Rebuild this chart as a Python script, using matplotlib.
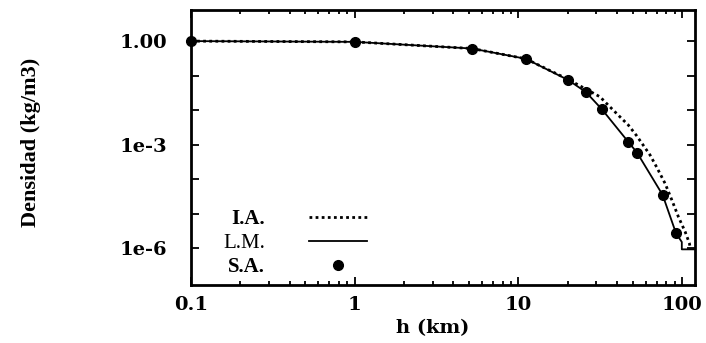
import matplotlib
matplotlib.use("Agg")
import matplotlib.pyplot as plt
from matplotlib.ticker import LogLocator, FixedLocator, FixedFormatter, NullFormatter, NullLocator

# ---- data ----
h_sa = [0.1, 1.0, 5.2, 11.1, 20.2, 25.9, 32.4, 46.9, 53.0, 76.0, 91.8]
rho_sa = [1.0, 0.95, 0.61, 0.307, 0.074, 0.033, 0.0105, 1.2e-3, 5.9e-4, 3.5e-5, 2.7e-6]

h_lm = [0.1, 1.0, 5.2, 11.1, 20.2, 25.9, 32.4, 46.9, 53.0, 76.0, 91.8, 99.6, 99.6, 120.0]
rho_lm = [1.0, 0.95, 0.61, 0.307, 0.074, 0.033, 0.0105, 1.2e-3, 5.9e-4, 3.5e-5, 2.7e-6,
          1.5e-6, 9.2e-7, 9.2e-7]

h_ia = [0.1, 1.0, 5.2, 11.1, 20.2, 31.5, 36.2, 41.7, 46.9, 52.8, 63.7, 70.0,
        78.7, 86.5, 94.9, 104.3, 110.7, 111.8]
rho_ia = [1.0, 0.95, 0.61, 0.307, 0.077, 0.0243, 0.0125, 6.4e-3, 3.7e-3, 1.8e-3,
          5.0e-4, 2.2e-4, 7.5e-5, 2.5e-5, 8.1e-6, 3.0e-6, 1.4e-6, 1.1e-6]

xtick_vals = [0.1, 1, 10, 100]
xtick_labels = ["0.1", "1", "10", "100"]
ytick_vals = [1, 1e-1, 1e-2, 1e-3, 1e-4, 1e-5, 1e-6]
ytick_labels = ["1.00", "", "", "1e-3", "", "", "1e-6"]

labels = ["I.A.", "L.M.", "S.A."]
xlabel = "h (km)"
ylabel = "Densidad (kg/m3)"

# ---- figure ----
fig = plt.figure(figsize=(7.06, 3.43), dpi=100)
ax = fig.add_axes([0.2705, 0.169, 0.714, 0.802])

ax.set_xscale("log")
ax.set_yscale("log")

l_ia, = ax.plot(h_ia, rho_ia, color="black", linestyle=(0, (1, 1.2)), linewidth=2.0)
l_lm, = ax.plot(h_lm, rho_lm, color="black", linestyle="-", linewidth=1.3)
l_sa, = ax.plot(h_sa, rho_sa, color="black", linestyle="none", marker="o", markersize=7,
                clip_on=False)

ax.set_xlim(0.1, 120)
ax.set_ylim(8.5e-8, 8)

ax.xaxis.set_major_locator(FixedLocator(xtick_vals))
ax.xaxis.set_major_formatter(FixedFormatter(xtick_labels))
ax.xaxis.set_minor_locator(LogLocator(base=10, subs=range(2, 10), numticks=20))
ax.xaxis.set_minor_formatter(NullFormatter())

ax.yaxis.set_major_locator(FixedLocator(ytick_vals))
ax.yaxis.set_major_formatter(FixedFormatter(ytick_labels))
ax.yaxis.set_minor_locator(NullLocator())

ax.tick_params(which="both", direction="in", top=True, right=True, width=1.3, color="black")
ax.tick_params(which="major", length=6)
ax.tick_params(which="minor", length=3)
ax.tick_params(axis="x", which="major", pad=8)
ax.tick_params(axis="y", which="major", pad=17)

for t in ax.get_xticklabels() + ax.get_yticklabels():
    t.set_fontfamily("DejaVu Serif")
    t.set_fontweight("bold")
    t.set_fontsize(14)

for s in ax.spines.values():
    s.set_linewidth(2.0)
    s.set_color("black")

ax.set_xlabel(xlabel, fontfamily="DejaVu Serif", fontweight="bold", fontsize=14, labelpad=0)
ax.set_ylabel(ylabel, fontfamily="Liberation Serif", fontweight="bold", fontsize=16, labelpad=0)
ax.yaxis.set_label_coords(-0.297, 0.52)
ax.xaxis.set_label_coords(0.48, -0.124)

leg = ax.legend([l_ia, l_lm, l_sa], labels, loc="lower left", bbox_to_anchor=(0.035, -0.025),
                frameon=False, markerfirst=False, handlelength=2.8, handletextpad=2.1,
                labelspacing=0.2, borderaxespad=0.3,
                prop=dict(family="Liberation Serif", weight="bold", size=15))
leg.get_texts()[1].set_fontweight("normal")

fig.savefig("out.png", dpi=100)
